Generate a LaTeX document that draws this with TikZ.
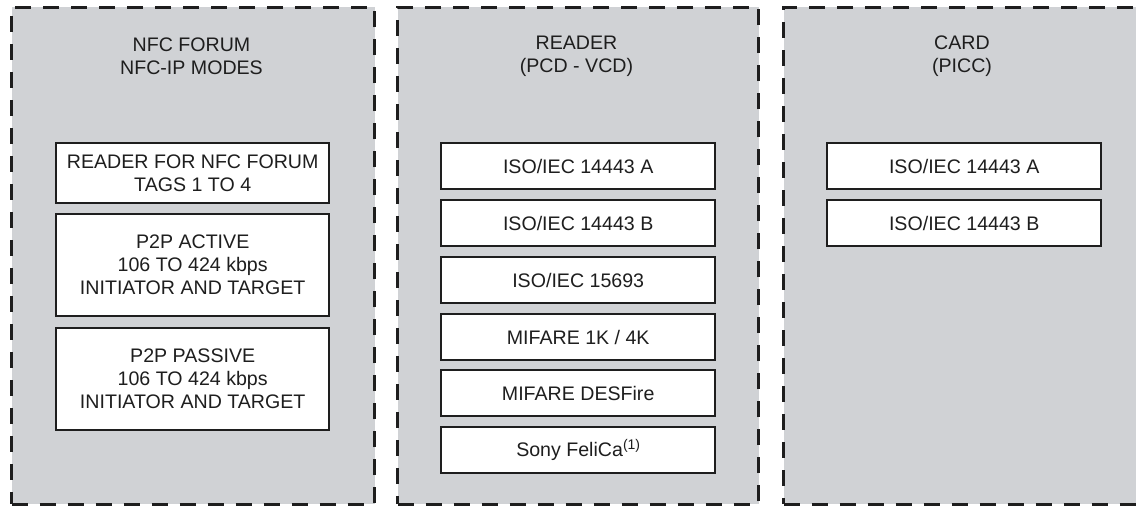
\documentclass[tikz,border=0pt]{standalone}
\usepackage{fontspec}
\setmainfont{Liberation Sans}
\definecolor{panelgray}{RGB}{208,210,213}
\definecolor{ink}{RGB}{30,30,30}
\begin{document}
\begin{tikzpicture}[x=1pt,y=1pt,
  panel/.style={draw=ink, fill=panelgray, line width=3pt, dash pattern=on 16pt off 12pt, rectangle, inner sep=0pt, anchor=north west},
  title/.style={align=center, font=\fontsize{19.6}{23}\selectfont, text=ink, inner sep=0pt},
  item/.style={draw=ink, fill=white, line width=2.4pt, rectangle, inner sep=0pt, align=center, text=ink, font=\fontsize{19.6}{23}\selectfont, anchor=north west}
]
\useasboundingbox (0,0) rectangle (1136,506);
\clip (0,0) rectangle (1136,506);
% panels
\node[panel, minimum width=363pt, minimum height=497pt] (pl) at (10,500) {};
\node[panel, minimum width=361pt, minimum height=497pt] (pm) at (396,500) {};
\node[panel, minimum width=360pt, minimum height=497pt] (pr) at (782,500) {};
% titles
\node[title] (tl) at (191.5,449.5) {NFC FORUM\\NFC-IP MODES};
\node[title] (tm) at (576.5,449.5) {READER\\(PCD - VCD)};
\node[title] (tr) at (962,449.5) {CARD\\(PICC)};
% left boxes
\node[item, minimum width=273pt, minimum height=60pt] (l1) at (55,364) {READER FOR NFC FORUM\\TAGS 1 TO 4};
\node[item, minimum width=273pt, minimum height=102pt] (l2) at (55,293) {P2P ACTIVE\\106 TO 424 kbps\\INITIATOR AND TARGET};
\node[item, minimum width=273pt, minimum height=102pt] (l3) at (55,179) {P2P PASSIVE\\106 TO 424 kbps\\INITIATOR AND TARGET};
% middle boxes
\node[item, minimum width=274pt, minimum height=46pt] (m1) at (440,364) {ISO/IEC 14443 A};
\node[item, minimum width=274pt, minimum height=46pt] (m2) at (440,307) {ISO/IEC 14443 B};
\node[item, minimum width=274pt, minimum height=46pt] (m3) at (440,250) {ISO/IEC 15693};
\node[item, minimum width=274pt, minimum height=46pt] (m4) at (440,193) {MIFARE 1K / 4K};
\node[item, minimum width=274pt, minimum height=46pt] (m5) at (440,137) {MIFARE DESFire};
\node[item, minimum width=274pt, minimum height=46pt] (m6) at (440,80) {Sony FeliCa\raisebox{6.5pt}{\fontsize{14}{14}\selectfont(1)}};
% right boxes
\node[item, minimum width=274pt, minimum height=46pt] (r1) at (826,364) {ISO/IEC 14443 A};
\node[item, minimum width=274pt, minimum height=46pt] (r2) at (826,307) {ISO/IEC 14443 B};
\end{tikzpicture}
\end{document}
